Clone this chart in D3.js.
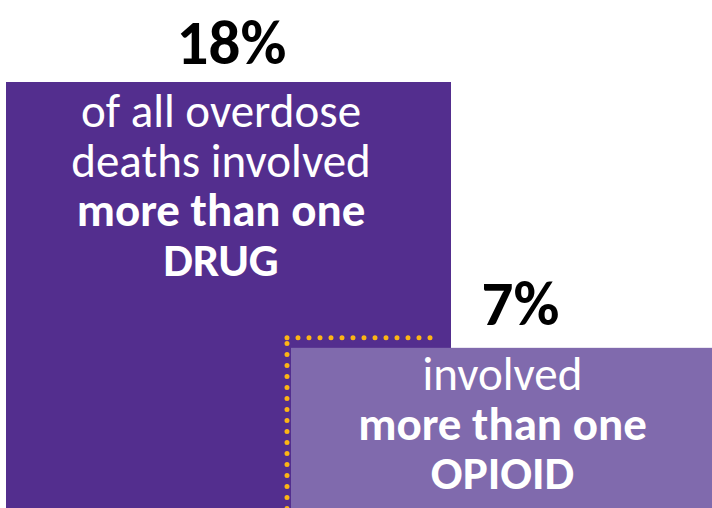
<!DOCTYPE html>
<html>
<head>
<meta charset="utf-8">
<script src="https://cdn.jsdelivr.net/npm/d3@7"></script>
<style>
  html, body { margin: 0; padding: 0; background: #fff; }
  svg { display: block; font-family: Calibri, Carlito, Lato, sans-serif; }
</style>
</head>
<body>
<div id="chart"></div>
<script>
// data
const categories = ['drug', 'opioid'];
const values = [18, 7];
const valueLabels = ['18%', '7%'];
const lightLines = [['of all overdose', 'deaths involved'], ['involved']];
const boldLines = [['more than one', 'DRUG'], ['more than one', 'OPIOID']];

const width = 712, height = 508;
const colors = d3.scaleOrdinal().domain(categories).range(['#532e8e', '#806aad']);

// scales
const y = d3.scaleLinear().domain([0, 18]).range([517, 82]);
const xLeft = d3.scaleOrdinal().domain(categories).range([6, 291]);
const boxW = d3.scaleOrdinal().domain(categories).range([445, 421]);

const svg = d3.select('#chart').append('svg')
  .attr('width', width)
  .attr('height', height);

const data = categories.map((c, i) => ({
  cat: c, value: values[i], label: valueLabels[i],
  lines: lightLines[i].map(t => ({t, bold: false})).concat(boldLines[i].map(t => ({t, bold: true})))
}));

// boxes
svg.selectAll('.box')
  .data(data)
  .enter().append('rect')
  .attr('class', 'box')
  .attr('x', d => xLeft(d.cat))
  .attr('y', d => y(d.value))
  .attr('width', d => boxW(d.cat))
  .attr('height', d => y(0) - y(d.value))
  .attr('fill', d => colors(d.cat));

// dotted outline (sits just above the small box)
const dotTop = y(7) - 10;
const dotX = xLeft('opioid') - 4;
svg.append('line')
  .attr('x1', dotX).attr('x2', dotX + 144)
  .attr('y1', dotTop).attr('y2', dotTop)
  .attr('stroke', '#fdb515').attr('stroke-width', 5)
  .attr('stroke-linecap', 'round').attr('stroke-dasharray', '0 11');
svg.append('line')
  .attr('x1', dotX).attr('x2', dotX)
  .attr('y1', dotTop + 5.7).attr('y2', height + 6)
  .attr('stroke', '#fdb515').attr('stroke-width', 5)
  .attr('stroke-linecap', 'round').attr('stroke-dasharray', '0 11');

// value labels
const labelX = [231.5, 520.5];
const labelGap = [18, 23];
svg.selectAll('.val')
  .data(data)
  .enter().append('text')
  .attr('class', 'val')
  .attr('x', (d, i) => labelX[i])
  .attr('y', (d, i) => y(d.value) - labelGap[i])
  .attr('text-anchor', 'middle')
  .attr('font-size', 63)
  .attr('font-weight', 'bold')
  .attr('fill', '#000')
  .text(d => d.label);

// text inside boxes
const textX = [221, 502.5];
const firstBase = [127, 390];
data.forEach((d, i) => {
  svg.append('text')
    .attr('text-anchor', 'middle')
    .attr('fill', '#fff')
    .attr('font-size', 47)
    .selectAll('tspan')
    .data(d.lines)
    .enter().append('tspan')
    .attr('x', textX[i])
    .attr('y', (l, j) => firstBase[i] + j * 49.5)
    .attr('font-weight', l => l.bold ? 'bold' : 'normal')
    .text(l => l.t);
});
</script>
</body>
</html>
